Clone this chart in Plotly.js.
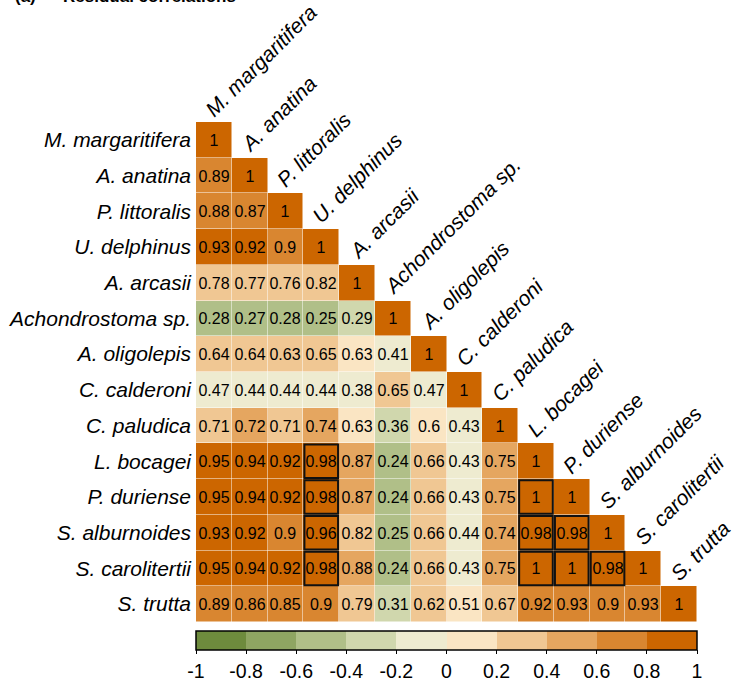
<!DOCTYPE html>
<html>
<head>
<meta charset="utf-8">
<script src="https://cdn.plot.ly/plotly-3.0.1.min.js"></script>
<style>html,body{margin:0;padding:0;background:#fff;}#chart{width:732px;height:683px;}</style>
</head>
<body>
<div id="chart"></div>
<script>
// ---- data ----
var species = ["M. margaritifera","A. anatina","P. littoralis","U. delphinus","A. arcasii","Achondrostoma sp.","A. oligolepis","C. calderoni","C. paludica","L. bocagei","P. duriense","S. alburnoides","S. carolitertii","S. trutta"];

// numbers printed in the cells (lower triangle, row by row)
var cellLabels = [
  [1],
  [0.89,1],
  [0.88,0.87,1],
  [0.93,0.92,0.9,1],
  [0.78,0.77,0.76,0.82,1],
  [0.28,0.27,0.28,0.25,0.29,1],
  [0.64,0.64,0.63,0.65,0.63,0.41,1],
  [0.47,0.44,0.44,0.44,0.38,0.65,0.47,1],
  [0.71,0.72,0.71,0.74,0.63,0.36,0.6,0.43,1],
  [0.95,0.94,0.92,0.98,0.87,0.24,0.66,0.43,0.75,1],
  [0.95,0.94,0.92,0.98,0.87,0.24,0.66,0.43,0.75,1,1],
  [0.93,0.92,0.9,0.96,0.82,0.25,0.66,0.44,0.74,0.98,0.98,1],
  [0.95,0.94,0.92,0.98,0.88,0.24,0.66,0.43,0.75,1,1,0.98,1],
  [0.89,0.86,0.85,0.9,0.79,0.31,0.62,0.51,0.67,0.92,0.93,0.9,0.93,1]
];

// estimated residual correlations (cell colours, read from the colour bins)
var correlations = [
  [0.9],
  [0.7,0.9],
  [0.7,0.7,0.9],
  [0.9,0.9,0.7,0.9],
  [0.3,0.3,0.3,0.3,0.9],
  [-0.5,-0.5,-0.5,-0.5,-0.3,0.9],
  [0.3,0.3,0.3,0.3,0.1,-0.1,0.9],
  [-0.1,-0.1,-0.1,-0.1,-0.1,0.3,-0.1,0.9],
  [0.3,0.5,0.3,0.5,0.1,-0.3,0.1,-0.1,0.9],
  [0.9,0.9,0.9,0.9,0.5,-0.5,0.3,-0.1,0.5,0.9],
  [0.9,0.9,0.9,0.9,0.5,-0.5,0.3,-0.1,0.5,0.9,0.9],
  [0.9,0.9,0.7,0.9,0.3,-0.5,0.3,-0.1,0.5,0.9,0.9,0.9],
  [0.9,0.9,0.9,0.9,0.5,-0.5,0.3,-0.1,0.5,0.9,0.9,0.9,0.9],
  [0.7,0.7,0.7,0.7,0.3,-0.3,0.3,0.1,0.3,0.7,0.7,0.7,0.7,0.9]
];

// highlighted (boxed) pairs: [row species, column species]
var boxedPairs = [
  ["L. bocagei","U. delphinus"],
  ["P. duriense","U. delphinus"],
  ["S. alburnoides","U. delphinus"],
  ["S. carolitertii","U. delphinus"],
  ["P. duriense","L. bocagei"],
  ["S. alburnoides","L. bocagei"],
  ["S. alburnoides","P. duriense"],
  ["S. carolitertii","L. bocagei"],
  ["S. carolitertii","P. duriense"],
  ["S. carolitertii","S. alburnoides"]
];

var binColors = ["#6e8b3d","#8fa562","#b0bf88","#d0d7ad","#eeebd0","#fae5c3","#f0c793","#e5a660","#d98630","#cc6600"];
var tickVals = [-1,-0.8,-0.6,-0.4,-0.2,0,0.2,0.4,0.6,0.8,1];
var tickText = ["-1","-0.8","-0.6","-0.4","-0.2","0","0.2","0.4","0.6","0.8","1"];

// ---- build ----
var n = species.length;
var z = [], txt = [];
for (var r = 0; r < n; r++) {
  var zr = [], tr = [];
  for (var c = 0; c < n; c++) {
    if (c <= r) { zr.push(correlations[r][c]); tr.push(String(cellLabels[r][c])); }
    else { zr.push(null); tr.push(""); }
  }
  z.push(zr); txt.push(tr);
}

var colorscale = [];
for (var i = 0; i < binColors.length; i++) {
  colorscale.push([i / binColors.length, binColors[i]]);
  colorscale.push([(i + 1) / binColors.length, binColors[i]]);
}

var W = 732, H = 683, mL = 196, mR = 35, mT = 122, mB = 61;
var plotW = W - mL - mR, plotH = H - mT - mB;
var cellW = plotW / n, cellH = plotH / n;
var FONT = "Liberation Sans, Arial, sans-serif";
var LABEL_SIZE = 21;

var trace = {
  type: "heatmap",
  x: species, y: species, z: z, text: txt,
  texttemplate: "%{text}",
  textfont: {family: FONT, size: 16, color: "#000"},
  colorscale: colorscale, zmin: -1, zmax: 1,
  xgap: 0.5, ygap: 0.5,
  hoverongaps: false,
  colorbar: {
    orientation: "h", x: 0.5, xanchor: "center",
    y: -9 / plotH, yanchor: "top",
    len: 1, lenmode: "fraction", thickness: 19,
    xpad: 0, ypad: 0,
    outlinewidth: 1.5, outlinecolor: "#000",
    tickmode: "array", tickvals: tickVals, ticktext: tickText,
    ticks: "outside", ticklen: 4, tickwidth: 1, tickcolor: "#000",
    tickfont: {family: FONT, size: 19.5, color: "#000"}
  }
};

var annotations = [];
for (var k = 0; k < n; k++) {
  annotations.push({
    x: species[k], y: species[k], xref: "x", yref: "y",
    text: species[k], showarrow: false, textangle: -45,
    xanchor: "left", yanchor: "bottom",
    xshift: -16, yshift: cellH / 2 - 1,
    font: {family: FONT, size: LABEL_SIZE, color: "#000", style: "italic"}
  });
}
// panel title (cut at the top edge, as in the source figure)
annotations.push({
  xref: "paper", yref: "paper", x: (13 - mL) / plotW, y: 1 + (mT - 8) / plotH,
  xanchor: "left", yanchor: "bottom", showarrow: false,
  text: "<b>(a)</b>", font: {family: FONT, size: 17, color: "#000"}
});
annotations.push({
  xref: "paper", yref: "paper", x: (61 - mL) / plotW, y: 1 + (mT - 8) / plotH,
  xanchor: "left", yanchor: "bottom", showarrow: false,
  text: "<b>Residual correlations</b>", font: {family: FONT, size: 17, color: "#000"}
});

var shapes = [];
var inset = 0.47;
boxedPairs.forEach(function (p) {
  var ri = species.indexOf(p[0]), ci = species.indexOf(p[1]);
  shapes.push({
    type: "rect", xref: "x", yref: "y",
    x0: ci - inset, x1: ci + inset, y0: ri - inset, y1: ri + inset,
    line: {color: "#111", width: 2}, fillcolor: "rgba(0,0,0,0)"
  });
});

var layout = {
  width: W, height: H,
  margin: {l: mL, r: mR, t: mT, b: mB, pad: 0, autoexpand: false},
  paper_bgcolor: "#fff", plot_bgcolor: "#fff",
  showlegend: false,
  xaxis: {type: "category", categoryorder: "array", categoryarray: species,
          showticklabels: false, ticks: "", showgrid: false, zeroline: false, showline: false,
          range: [-0.5, n - 0.5], fixedrange: true, automargin: false},
  yaxis: {type: "category", categoryorder: "array", categoryarray: species,
          autorange: false, range: [n - 0.5, -0.5],
          ticks: "", showgrid: false, zeroline: false, showline: false,
          tickfont: {family: FONT, size: LABEL_SIZE, color: "#000", style: "italic"},
          ticklabelstandoff: 4, fixedrange: true, automargin: false},
  annotations: annotations,
  shapes: shapes
};

Plotly.newPlot("chart", [trace], layout, {staticPlot: true, displayModeBar: false});
</script>
</body>
</html>
